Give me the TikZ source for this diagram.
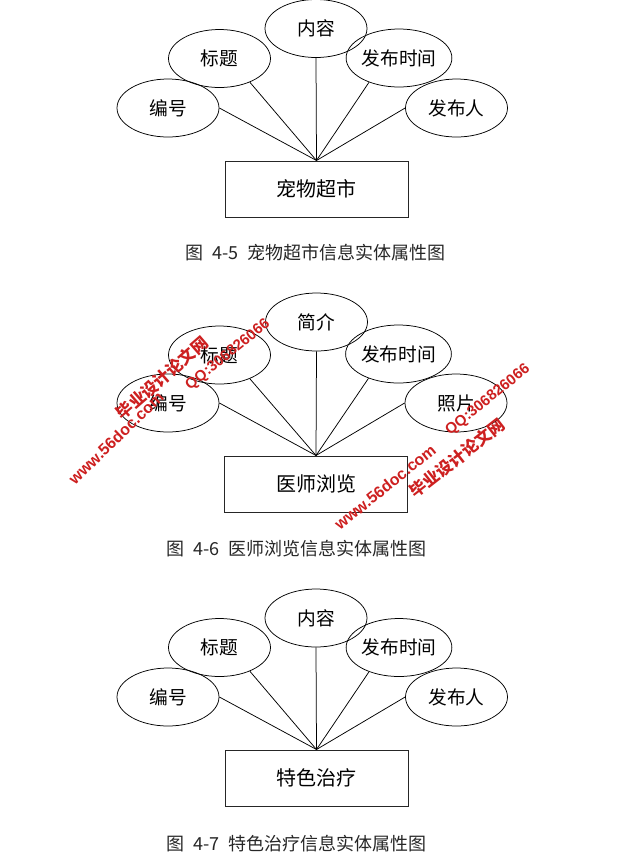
\documentclass[tikz,border=0pt]{standalone}
\usepackage{fontspec}
\setmainfont{Liberation Sans}
\newfontfamily\cjk{Noto Sans CJK SC}
\newfontfamily\wmlatin{Liberation Sans}
\usetikzlibrary{shapes.geometric}
\definecolor{wmred}{RGB}{205,32,32}
\newcommand{\capsp}{\hspace{0.5em}}
\begin{document}
\begin{tikzpicture}[x=1pt,y=-1pt,
  attr/.style={ellipse,draw,line width=0.75pt,minimum width=102pt,minimum height=58pt,inner sep=0pt,font=\cjk\fontsize{18.7}{20}\selectfont},
  ent/.style={rectangle,draw=black!85,line width=1pt,minimum width=183pt,minimum height=56pt,inner sep=0pt,font=\cjk\fontsize{20}{22}\selectfont},
  link/.style={line width=0.75pt},
  figcap/.style={inner sep=0pt,font=\cjk\fontsize{18}{20}\selectfont,text=black!85},
  wmcjk/.style={inner sep=0pt,text=wmred,font=\cjk\bfseries\fontsize{16.5}{18}\selectfont},
  wmlat/.style={inner sep=0pt,text=wmred,font=\wmlatin\bfseries\fontsize{15}{16}\selectfont},
  wmwww/.style={inner sep=0pt,text=wmred,font=\wmlatin\bfseries\fontsize{16}{17}\selectfont}
]
\useasboundingbox (0,0) rectangle (622,863);

% ---- Diagram 4-5
\node[attr] (a1) at (316,28.5) {内容};
\node[attr] (b1) at (219.5,58.5) {标题};
\node[attr] (c1) at (399,58) {发布时间};
\node[attr] (d1) at (168,108) {编号};
\node[attr] (e1) at (456.5,108) {发布人};
\node[ent] (r1) at (316.5,189) {宠物超市};
\draw[link] (r1.north) -- (a1.south);
\draw[link] (r1.north) -- (b1.-38);
\draw[link] (r1.north) -- (c1.219);
\draw[link] (r1.north) -- (d1.east);
\draw[link] (r1.north) -- (e1.west);
\node[figcap] (t1) at (315.5,253) {图\capsp 4-5\capsp 宠物超市信息实体属性图};

% ---- Diagram 4-6
\node[attr] (a2) at (316.5,322) {简介};
\node[attr] (b2) at (219.5,355) {标题};
\node[attr] (c2) at (398.5,354) {发布时间};
\node[attr] (d2) at (168,403) {编号};
\node[attr] (e2) at (456,403) {照片};
\node[ent] (r2) at (316,484) {医师浏览};
\draw[link] (r2.north) -- (a2.south);
\draw[link] (r2.north) -- (b2.-38);
\draw[link] (r2.north) -- (c2.219);
\draw[link] (r2.north) -- (d2.east);
\draw[link] (r2.north) -- (e2.west);
\node[figcap] (t2) at (296.5,549) {图\capsp 4-6\capsp 医师浏览信息实体属性图};

% ---- Diagram 4-7
\node[attr] (a3) at (316,618) {内容};
\node[attr] (b3) at (219.5,647.5) {标题};
\node[attr] (c3) at (399,647.5) {发布时间};
\node[attr] (d3) at (168,697) {编号};
\node[attr] (e3) at (456.5,697) {发布人};
\node[ent] (r3) at (316.5,778) {特色治疗};
\draw[link] (r3.north) -- (a3.south);
\draw[link] (r3.north) -- (b3.-38);
\draw[link] (r3.north) -- (c3.219);
\draw[link] (r3.north) -- (d3.east);
\draw[link] (r3.north) -- (e3.west);
\node[figcap] (t3) at (296.5,844) {图\capsp 4-7\capsp 特色治疗信息实体属性图};

% ---- watermarks
\node[wmlat,rotate=39] (w1) at (228,355) {QQ:306826066};
\node[wmcjk,rotate=41] (w2) at (162,378) {毕业设计论文网};
\node[wmwww,rotate=44] (w3) at (116,438) {www.56doc.com};
\node[wmlat,rotate=39] (w4) at (488,400) {QQ:306826066};
\node[wmcjk,rotate=38] (w5) at (457,458) {毕业设计论文网};
\node[wmwww,rotate=39] (w6) at (385,487) {www.56doc.com};
\end{tikzpicture}
\end{document}
